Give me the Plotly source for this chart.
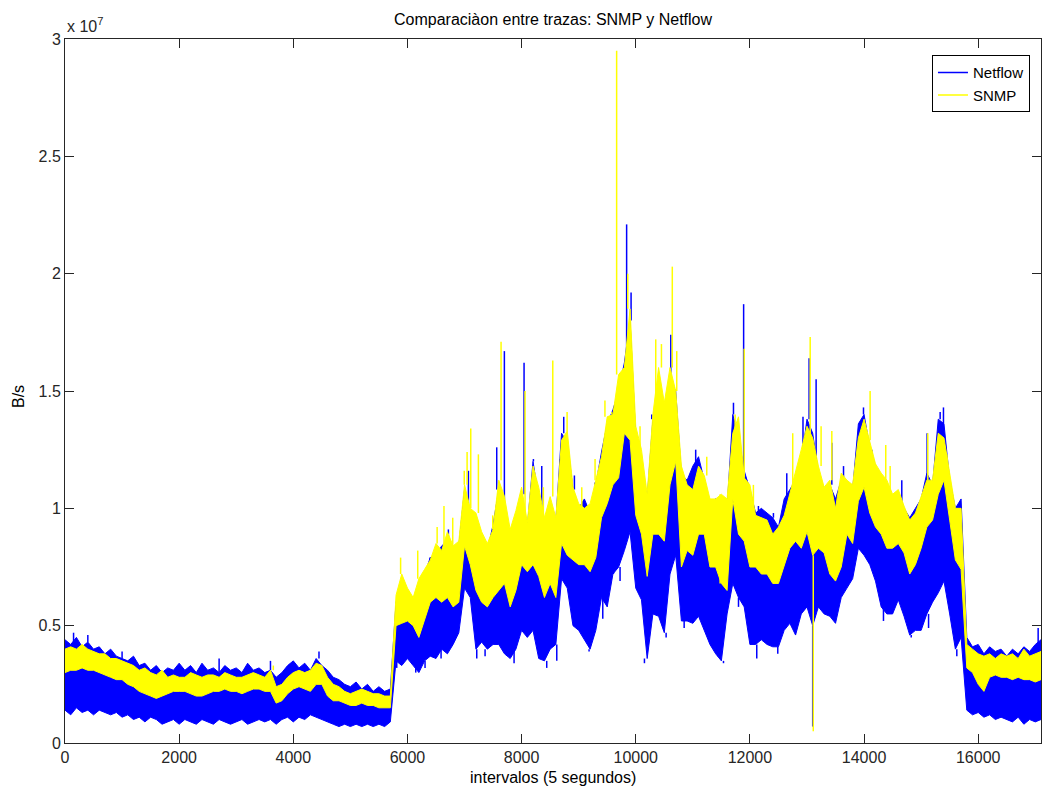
import plotly.graph_objects as go

# Values are in units of 1e5 B/s, one min/max pair per block of 100 intervals
SCALE = 1e5
intervals = list(range(0, 17200, 100))

snmp_hi = [
    40, 41, 40, 42, 40, 39, 38, 38, 36, 36,
    35, 34, 33, 31, 32, 30, 29, 31, 28, 29,
    28, 28, 30, 29, 28, 29, 29, 28, 30, 29,
    28, 28, 29, 30, 29, 28, 31, 24, 25, 28,
    30, 31, 30, 31, 34, 33, 28, 25, 24, 22,
    21, 22, 23, 22, 21, 21, 20, 20,
    63, 72, 66, 62, 70, 74, 78, 85, 82, 90,
    84, 86, 110, 100, 98, 90, 85, 91, 112, 105,
    91, 99, 109, 94, 118, 109, 96, 105, 96, 129,
    133, 109, 102, 100, 102, 112, 122, 139, 140, 157,
    160, 185, 135, 125, 106, 140, 160, 145, 160, 150,
    118, 110, 108, 118, 114, 104, 104, 106, 104, 132,
    139, 113, 110, 97, 96, 95, 89, 92,
    97, 106, 115, 125, 135, 130, 118, 109, 112, 100,
    115, 112, 110, 130, 138, 129, 119, 115, 112, 106,
    108, 101, 95, 98, 105, 112, 112, 132, 130, 115,
    100, 100,
    42, 40, 38, 37, 38, 36, 38, 37, 38, 36, 40, 37, 38, 39,
]
snmp_lo = [
    30, 31, 31, 32, 31, 31, 30, 29, 28, 27,
    27, 25, 24, 22, 21, 20, 19, 20, 21, 22,
    22, 22, 21, 20, 20, 21, 22, 22, 23, 22,
    22, 21, 22, 23, 23, 22, 22, 17, 18, 21,
    23, 24, 23, 22, 25, 25, 20, 18, 18, 17,
    16, 16, 17, 16, 16, 15, 15, 15,
    50, 51, 52, 50, 45, 52, 60, 62, 60, 62,
    58, 60, 84, 76, 65, 60, 58, 62, 65, 68,
    58, 65, 76, 73, 76, 71, 62, 68, 62, 85,
    80, 78, 76, 76, 73, 79, 96, 102, 110, 113,
    132, 129, 97, 89, 71, 89, 89, 86, 110, 120,
    75, 82, 80, 89, 89, 75, 75, 68, 65, 104,
    89, 86, 75, 75, 72, 72, 68, 68,
    75, 83, 86, 83, 90, 80, 83, 81, 72, 69,
    75, 89, 85, 103, 109, 98, 92, 89, 83, 83,
    85, 81, 72, 76, 83, 92, 95, 106, 112, 95,
    78, 74,
    32, 30, 25, 22, 28, 29, 28, 28, 27, 28, 27, 27, 26, 27,
]
netflow_hi = [
    44, 42, 45, 41, 43, 40, 41, 38, 40, 37,
    36, 35, 37, 33, 34, 31, 33, 30, 32, 31,
    34, 31, 33, 30, 34, 31, 32, 30, 33, 31,
    32, 30, 34, 31, 32, 30, 31, 28, 30, 33,
    35, 32, 34, 31, 36, 33, 31, 28, 27, 25,
    24, 26, 23, 25, 22, 24, 22, 23,
    60, 66, 63, 60, 68, 72, 79, 80, 84, 86,
    80, 84, 108, 98, 95, 88, 82, 93, 108, 100,
    88, 96, 106, 92, 120, 104, 94, 100, 95, 132,
    128, 108, 100, 104, 98, 110, 124, 136, 142, 150,
    162, 180, 130, 120, 104, 138, 150, 140, 155, 150,
    114, 112, 118, 122, 112, 102, 104, 102, 100, 140,
    130, 116, 108, 98, 100, 98, 96, 92,
    104, 108, 112, 120, 138, 132, 115, 108, 110, 104,
    112, 110, 108, 136, 140, 126, 118, 112, 110, 104,
    106, 100, 96, 100, 104, 115, 110, 138, 136, 112,
    100, 104,
    45, 41, 42, 38, 41, 39, 40, 37, 40, 38, 41, 39, 42, 44,
]
netflow_lo = [
    14, 12, 15, 13, 14, 12, 14, 13, 12, 13,
    11, 12, 10, 11, 9, 11, 10, 8, 9, 10,
    8, 10, 9, 8, 10, 9, 8, 10, 9, 8,
    9, 10, 8, 9, 10, 9, 10, 8, 10, 11,
    9, 11, 10, 12, 11, 10, 9, 8, 7, 8,
    7, 8, 7, 8, 7, 8, 7, 9,
    35, 33, 36, 33, 30, 35, 37, 36, 40, 38,
    42, 47, 66, 62, 40, 43, 40, 42, 42, 38,
    36, 40, 48, 45, 48, 36, 35, 40, 42, 70,
    66, 50, 48, 44, 40, 48, 62, 58, 72, 75,
    82, 90, 66, 61, 36, 55, 54, 47, 72, 80,
    52, 52, 51, 54, 48, 42, 38, 35, 55, 68,
    62, 58, 42, 42, 44, 42, 41, 41,
    48, 51, 46, 55, 58, 50, 58, 55, 54, 51,
    62, 66, 70, 83, 80, 76, 69, 58, 55, 55,
    61, 54, 46, 48, 48, 55, 60, 64, 69, 55,
    40, 45,
    14, 12, 13, 11, 12, 10, 11, 10, 9, 11, 8, 10, 9, 10,
]

# Isolated extreme samples (interval, value in 1e5 B/s)
snmp_spike_x = [3650, 5880, 6180, 6520, 6640, 6793, 6995, 7045, 7109, 7243,
                7494, 7640, 8060, 8381, 8546, 8703, 8797, 9054, 9287, 9460,
                9579, 9665, 9860, 9930, 10075, 10350, 10450, 10640, 10718, 11244,
                11478, 11741, 11900, 12061, 12750, 13056, 13110, 13247, 13435, 14106,
                14380, 14457, 15117, 15450]
snmp_spike_v = [33, 79, 82, 92, 101, 96, 116, 124, 134, 123,
                97, 171, 150, 109, 163, 129, 141, 109, 121, 146,
                141, 295, 200, 162, 135, 172, 170, 203, 167, 122,
                106, 140, 168, 110, 132, 173, 5, 135, 133, 150,
                127, 118, 132, 123]
netflow_spike_x = [150, 400, 1000, 2700, 3600, 4450, 6396, 6717, 7068, 7564,
                   7698, 8043, 8207, 8353, 8674, 8738, 8925, 9287, 9521, 9568,
                   9609, 9840, 9918, 10280, 10614, 11050, 11712, 11890, 12149, 12412,
                   12646, 12930, 13037, 13160, 13435, 13640, 13990, 14136, 14661, 15105,
                   15333, 15391, 17050,
                   5812, 6145, 6308, 6589, 7214, 7360, 7868, 8440, 8616, 9182,
                   9422, 9725, 10152, 10532, 10848, 11437, 11537, 11800, 12120, 12488,
                   13100, 14340, 14826, 15130, 15625]
netflow_spike_v = [47, 46, 39, 36, 35, 39, 79, 91, 116, 126,
                   167, 162, 121, 118, 121, 139, 114, 111, 139, 139,
                   140, 221, 192, 140, 174, 125, 145, 187, 101, 98,
                   115, 139, 164, 155, 128, 118, 143, 125, 112, 132,
                   141, 143, 49,
                   32, 30, 32, 36, 36, 37, 34, 32, 35, 39,
                   53, 69, 34, 45, 49, 37, 34, 58, 36, 38,
                   7, 52, 45, 49, 37]

x_tick_vals = [0, 2000, 4000, 6000, 8000, 10000, 12000, 14000, 16000]
y_tick_vals = [0, 0.5e7, 1e7, 1.5e7, 2e7, 2.5e7, 3e7]
y_tick_text = ["0", "0.5", "1", "1.5", "2", "2.5", "3"]

BLUE = "#0000FF"
YELLOW = "#FFFF00"
FONT = "Liberation Sans, Arial, Helvetica, sans-serif"
INK = "#262626"


def band(lo, hi):
    xs = intervals + intervals[::-1]
    ys = [v * SCALE for v in hi] + [v * SCALE for v in lo[::-1]]
    return xs, ys


def spikes(sx, sv, lo, hi):
    xs, ys = [], []
    for x, v in zip(sx, sv):
        i = min(range(len(intervals)), key=lambda k: abs(intervals[k] - x))
        base = hi[i] if v > hi[i] else lo[i]
        xs += [x, x, None]
        ys += [base * SCALE, v * SCALE, None]
    return xs, ys


fig = go.Figure()

bx, by = band(netflow_lo, netflow_hi)
fig.add_trace(go.Scatter(x=bx, y=by, fill="toself", fillcolor=BLUE, mode="lines",
                         line=dict(color=BLUE, width=1),
                         showlegend=False, hoverinfo="skip"))
sx, sy = spikes(netflow_spike_x, netflow_spike_v, netflow_lo, netflow_hi)
fig.add_trace(go.Scatter(x=sx, y=sy, mode="lines", name="Netflow",
                         line=dict(color=BLUE, width=1.5)))

bx, by = band(snmp_lo, snmp_hi)
fig.add_trace(go.Scatter(x=bx, y=by, fill="toself", fillcolor=YELLOW, mode="lines",
                         line=dict(color=YELLOW, width=1),
                         showlegend=False, hoverinfo="skip"))
sx, sy = spikes(snmp_spike_x, snmp_spike_v, snmp_lo, snmp_hi)
fig.add_trace(go.Scatter(x=sx, y=sy, mode="lines", name="SNMP",
                         line=dict(color=YELLOW, width=1.5)))

axis_common = dict(showline=True, linecolor=INK, linewidth=1, mirror="ticks",
                   ticks="inside", ticklen=9, tickcolor=INK, showgrid=False,
                   zeroline=False, automargin=False,
                   tickfont=dict(family=FONT, size=16, color=INK))

fig.update_xaxes(range=[0, 17100], tickvals=x_tick_vals, tickformat="d", **axis_common)
fig.update_yaxes(range=[0, 3e7], tickvals=y_tick_vals, ticktext=y_tick_text, **axis_common)

fig.update_layout(
    width=1042, height=787,
    margin=dict(l=65, r=1, t=39, b=44),
    paper_bgcolor="white", plot_bgcolor="white",
    font=dict(family=FONT, size=16, color="#000"),
    showlegend=True,
    legend=dict(x=0.9887, y=0.977, xanchor="right", yanchor="top",
                bgcolor="white", bordercolor="#000", borderwidth=1,
                font=dict(family=FONT, size=15, color="#000"),
                traceorder="normal"),
    annotations=[
        dict(text="Comparaciàon entre trazas: SNMP y Netflow", xref="paper", yref="paper",
             x=0.5, y=(743 - 20) / 704, xanchor="center", yanchor="middle",
             showarrow=False, font=dict(family=FONT, size=16, color="#000")),
        dict(text="x 10<sup>7</sup>", xref="paper", yref="paper", x=0.0, y=1.0,
             xanchor="left", yanchor="bottom", yshift=2, showarrow=False,
             font=dict(family=FONT, size=16, color=INK)),
        dict(text="intervalos (5 segundos)", xref="paper", yref="paper",
             x=0.5, y=(743 - 777) / 704, xanchor="center", yanchor="middle",
             showarrow=False, font=dict(family=FONT, size=16, color="#000")),
        dict(text="B/s", xref="paper", yref="paper", x=(18 - 65) / 976,
             y=(743 - 397) / 704, xanchor="center", yanchor="middle", textangle=-90,
             showarrow=False, font=dict(family=FONT, size=16, color="#000")),
    ],
)

fig.write_html("out.html", config={"displayModeBar": False},
               post_script="document.body.style.margin='0';document.body.style.padding='0';")
